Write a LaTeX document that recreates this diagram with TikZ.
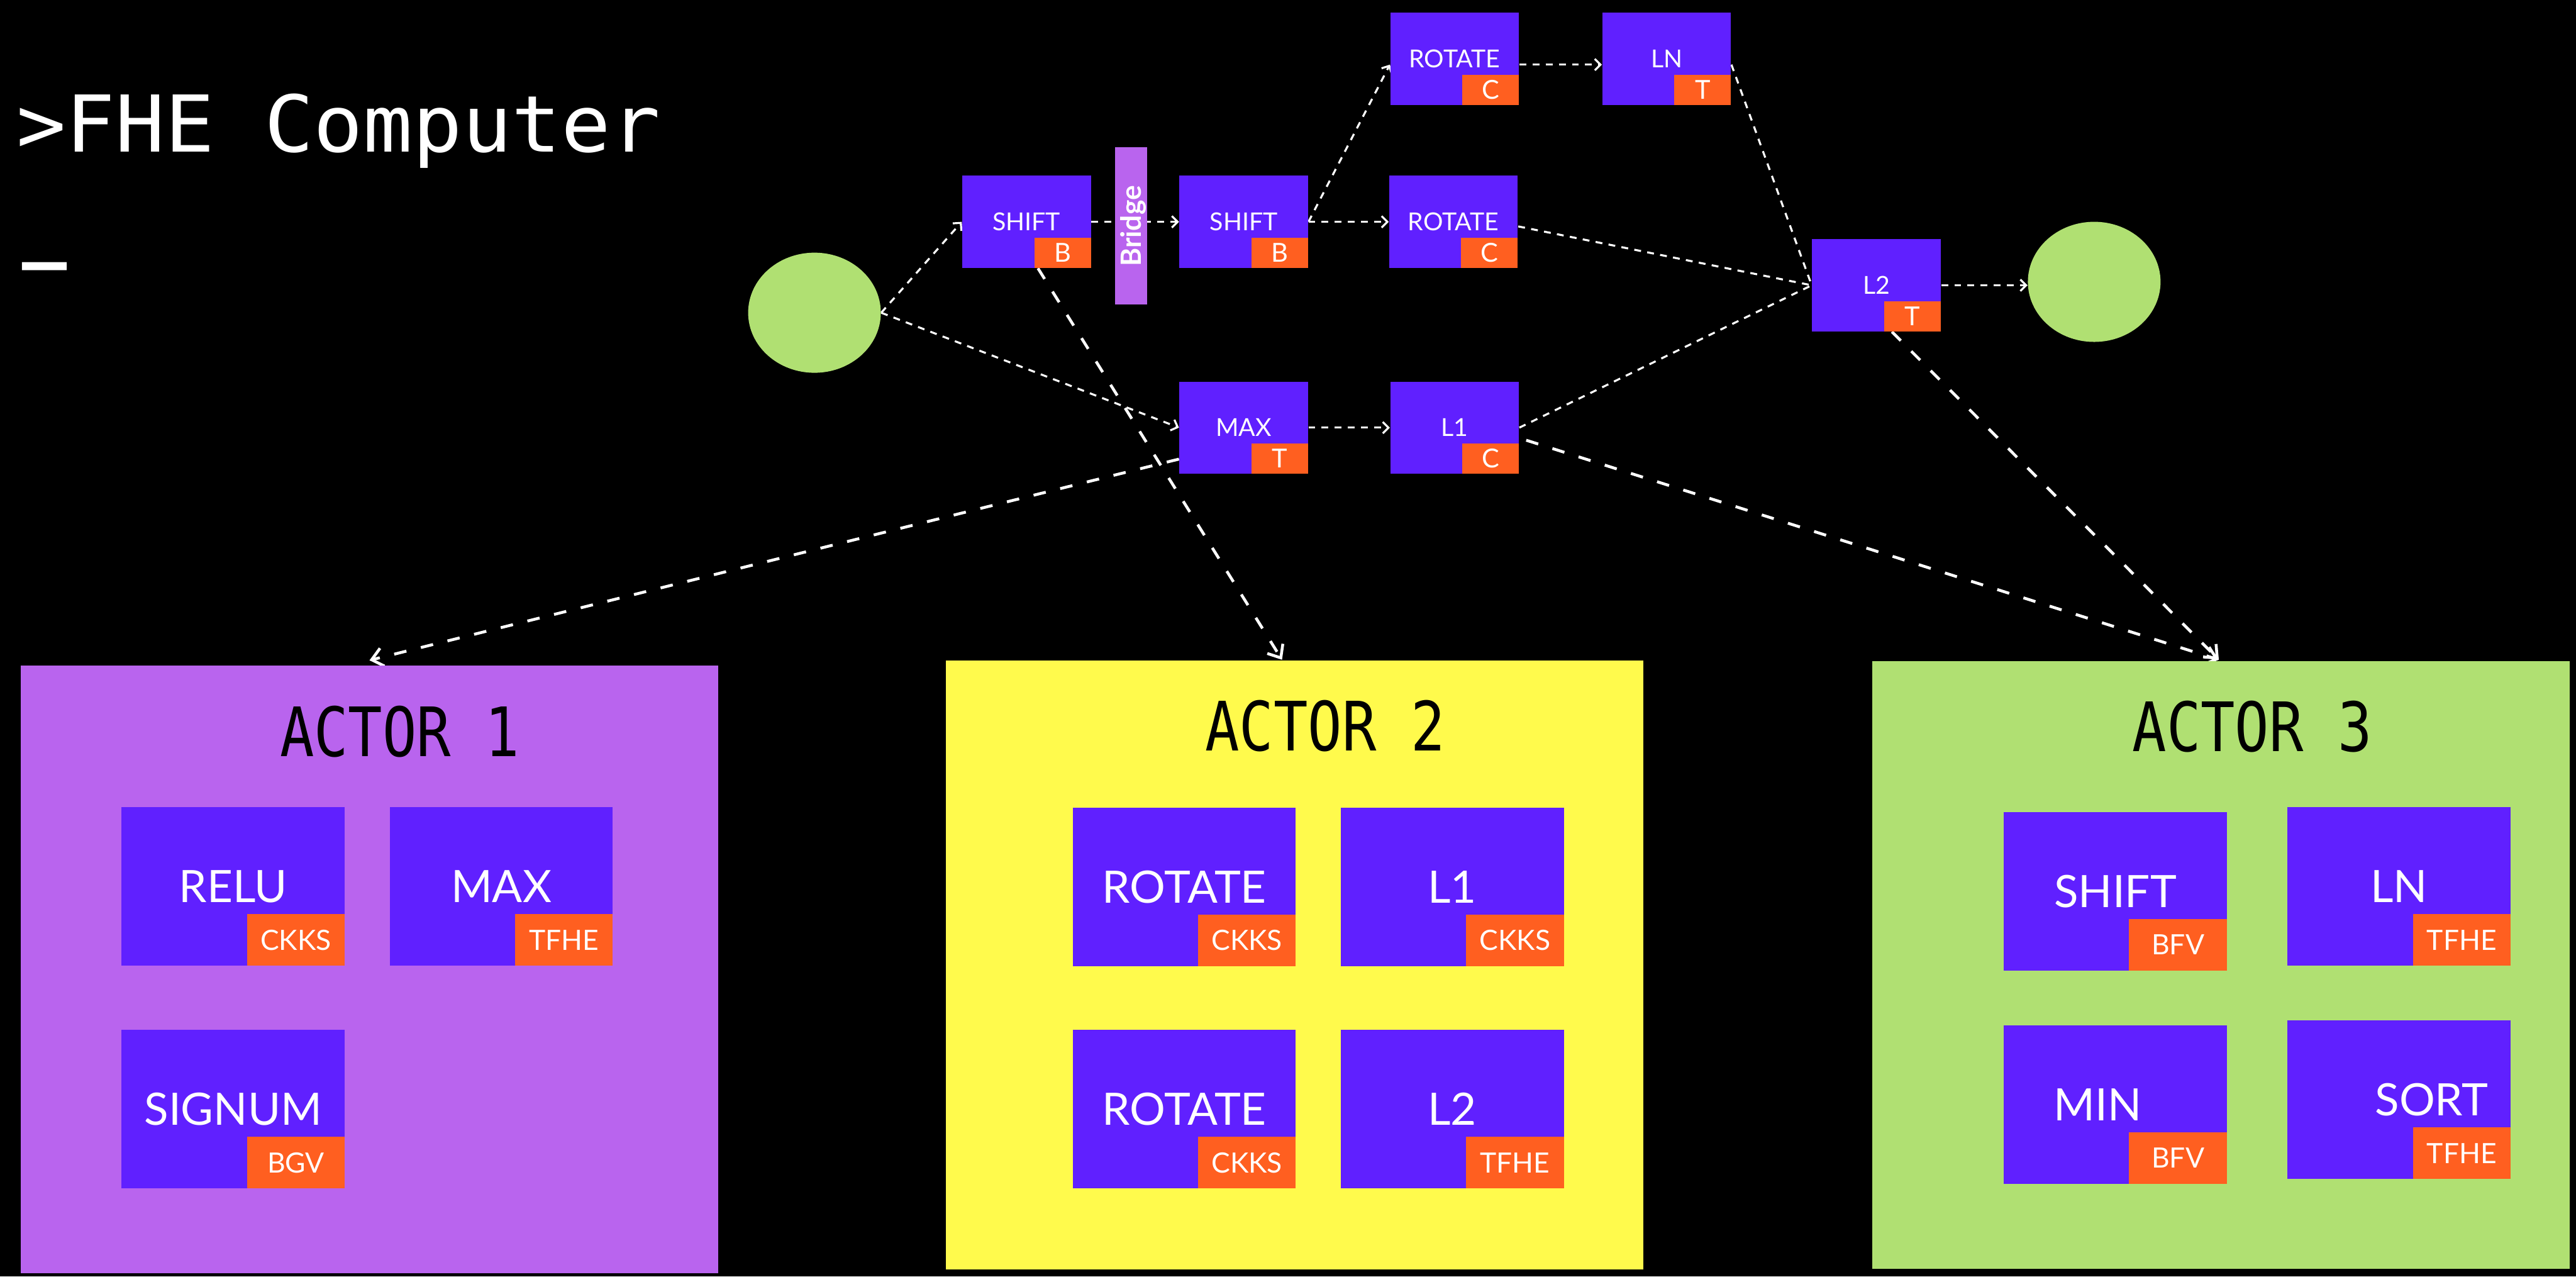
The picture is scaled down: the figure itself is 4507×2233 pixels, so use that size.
\documentclass[tikz,border=0pt]{standalone}
\usepackage{fontspec}
\usepackage{graphicx}
\setmainfont{Lato}
\newfontfamily\headfont[FakeStretch=1.05]{DejaVu Sans Mono}
\newfontfamily\cursorfont[FakeStretch=1.4]{DejaVu Sans Mono}
\newfontfamily\actorfont[FakeStretch=0.835]{DejaVu Sans Mono}
\usetikzlibrary{arrows.meta,shapes.geometric}

\definecolor{opblue}{RGB}{96,32,255}
\definecolor{schemeorange}{RGB}{255,95,32}
\definecolor{leafgreen}{RGB}{176,224,114}
\definecolor{lilac}{RGB}{185,100,238}
\definecolor{lemon}{RGB}{255,250,76}

\pgfdeclarelayer{backdrop}
\pgfdeclarelayer{wires}
\pgfsetlayers{backdrop,wires,main}

\tikzset{
  op/.style={rectangle, fill=opblue, text=white, inner sep=0pt,
    minimum width=2.25cm, minimum height=1.61cm,
    font=\fontsize{12.3pt}{14pt}\selectfont},
  optag/.style={rectangle, fill=schemeorange, text=white, inner sep=0pt,
    minimum width=0.99cm, minimum height=0.53cm, anchor=south east,
    font=\fontsize{13pt}{14pt}\selectfont},
  terminal/.style={ellipse, fill=leafgreen, inner sep=0pt,
    minimum width=2.32cm, minimum height=2.10cm},
  actor/.style={rectangle, inner sep=0pt, minimum width=12.19cm, minimum height=10.63cm},
  actortitle/.style={anchor=base west, inner sep=0pt, text=black,
    font=\actorfont\fontsize{33.9pt}{34pt}\selectfont},
  fn/.style={rectangle, fill=opblue, text=white, inner sep=0pt,
    minimum width=3.9cm, minimum height=2.77cm,
    font=\fontsize{22.2pt}{24pt}\selectfont},
  fntag/.style={rectangle, fill=schemeorange, text=white, inner sep=0pt,
    minimum width=1.71cm, minimum height=0.90cm, anchor=south east,
    font=\fontsize{13.9pt}{15pt}\selectfont},
  flow/.style={draw=white, line width=0.035cm, dash pattern=on 0.12cm off 0.11cm},
  flowtip/.style={flow, -{Straight Barb[length=0.1cm,width=0.2cm]}},
  assign/.style={draw=white, line width=0.05cm, dash pattern=on 0.22cm off 0.26cm,
    -{Straight Barb[length=0.19cm,width=0.32cm]}},
}

\begin{document}
\begin{tikzpicture}[x=0.01cm,y=-0.01cm]
\begin{pgfonlayer}{backdrop}
  \fill[black] (0,0) rectangle (4507,2233);
\end{pgfonlayer}
\useasboundingbox (0,0) rectangle (4507,2233);

% heading with cursor
\node[anchor=base west, inner sep=0pt, text=white,
  font=\headfont\fontsize{39pt}{39pt}\selectfont] (title) at (28,266) {>FHE Computer};
\node[anchor=base west, inner sep=0pt, text=white,
  font=\cursorfont\fontsize{25.6pt}{26pt}\selectfont] (cursor) at (40,451) {▁};

% computation graph
\node[terminal] (in) at (1425,547) {};
\node[op] (shift1) at (1796,388) {SHIFT};
\node[optag] (shift1t) at (shift1.south east) {B};
\node[rectangle, fill=lilac, inner sep=0pt, minimum width=2.75cm, minimum height=0.56cm,
  text=white, rotate=90, text height=0.35cm, text depth=0pt,
  font=\bfseries\fontsize{13.9pt}{15pt}\selectfont] (bridge) at (1979,395.5) {Bridge};
\node[op] (shift2) at (2176,388) {SHIFT};
\node[optag] (shift2t) at (shift2.south east) {B};
\node[op] (rot1) at (2545,103) {ROTATE};
\node[optag] (rot1t) at (rot1.south east) {C};
\node[op] (ln) at (2916,103) {LN};
\node[optag] (lnt) at (ln.south east) {T};
\node[op] (rot2) at (2543,388) {ROTATE};
\node[optag] (rot2t) at (rot2.south east) {C};
\node[op] (max) at (2176,748) {MAX};
\node[optag] (maxt) at (max.south east) {T};
\node[op] (l1) at (2545,748) {L1};
\node[optag] (l1t) at (l1.south east) {C};
\node[op] (l2) at (3283,499) {L2};
\node[optag] (l2t) at (l2.south east) {T};
\node[terminal] (out) at (3664,493) {};

% actors
\node[actor, fill=lilac] (actor1) at (646.5,1695.5) {};
\node[actor, fill=lemon, minimum height=10.64cm] (actor2) at (2265,1688) {};
\node[actor, fill=leafgreen, minimum height=10.62cm] (actor3) at (3886,1688) {};
\node[actortitle] (actor1title) at (489,1323) {ACTOR 1};
\node[actortitle] (actor2title) at (2108,1313) {ACTOR 2};
\node[actortitle] (actor3title) at (3730,1314) {ACTOR 3};

\node[fn] (relu) at (408,1550.5) {RELU};
\node[fntag] (relut) at (relu.south east) {CKKS};
\node[fn] (amax) at (877,1550.5) {MAX};
\node[fntag] (amaxt) at (amax.south east) {TFHE};
\node[fn] (signum) at (408,1940) {SIGNUM};
\node[fntag] (signumt) at (signum.south east) {BGV};

\node[fn] (arot1) at (2072,1551) {ROTATE};
\node[fntag] (arot1t) at (arot1.south east) {CKKS};
\node[fn] (al1) at (2541,1551) {L1};
\node[fntag] (al1t) at (al1.south east) {CKKS};
\node[fn] (arot2) at (2072,1940) {ROTATE};
\node[fntag] (arot2t) at (arot2.south east) {CKKS};
\node[fn] (al2) at (2541,1940) {L2};
\node[fntag] (al2t) at (al2.south east) {TFHE};

\node[fn] (ashift) at (3701,1559) {SHIFT};
\node[fntag] (ashiftt) at (ashift.south east) {BFV};
\node[fn] (aln) at (4197.5,1550.5) {LN};
\node[fntag] (alnt) at (aln.south east) {TFHE};
\node[fn] (amin) at (3701,1932) {\hspace*{-0.62cm}MIN};
\node[fntag] (amint) at (amin.south east) {BFV};
\node[fn] (asort) at (4197.5,1923.5) {\hspace*{1.14cm}SORT};
\node[fntag] (asortt) at (asort.south east) {TFHE};

% connectors
\begin{pgfonlayer}{wires}
  \draw[flowtip] (in.east) -- (shift1.west);
  \draw[flowtip] (in.east) -- (max.west);
  \draw[flowtip] (shift1.east) -- (shift2.west);
  \draw[flowtip] (shift2.east) -- ([yshift=-0.1cm]rot1.west);
  \draw[flowtip] (shift2.east) -- (rot2.west);
  \draw[flowtip] ([yshift=-0.1cm]rot1.east) -- ([yshift=-0.1cm]ln.west);
  \draw[flow] ([yshift=-0.1cm]ln.east) -- (l2.west);
  \draw[flow] ([yshift=-0.08cm]rot2.east) -- (l2.west);
  \draw[flow] (l1.east) -- (l2.west);
  \draw[flowtip] (max.east) -- (l1.west);
  \draw[flowtip] (l2.east) -- (l2.east -| out.west);

  \draw[assign] ([yshift=-0.55cm]max.west) -- ([yshift=0.08cm]actor1.north);
  \draw[assign] ([xshift=0.2cm]shift1.south) -- ([xshift=-0.22cm,yshift=0.01cm]actor2.north);
  \draw[assign] ([xshift=0.12cm,yshift=-0.22cm]l1.east) -- ([xshift=-0.04cm,yshift=0.02cm]actor3.north);
  \draw[assign] ([xshift=0.27cm]l2.south) -- ([xshift=-0.04cm,yshift=0.02cm]actor3.north);
\end{pgfonlayer}
\end{tikzpicture}
\end{document}
